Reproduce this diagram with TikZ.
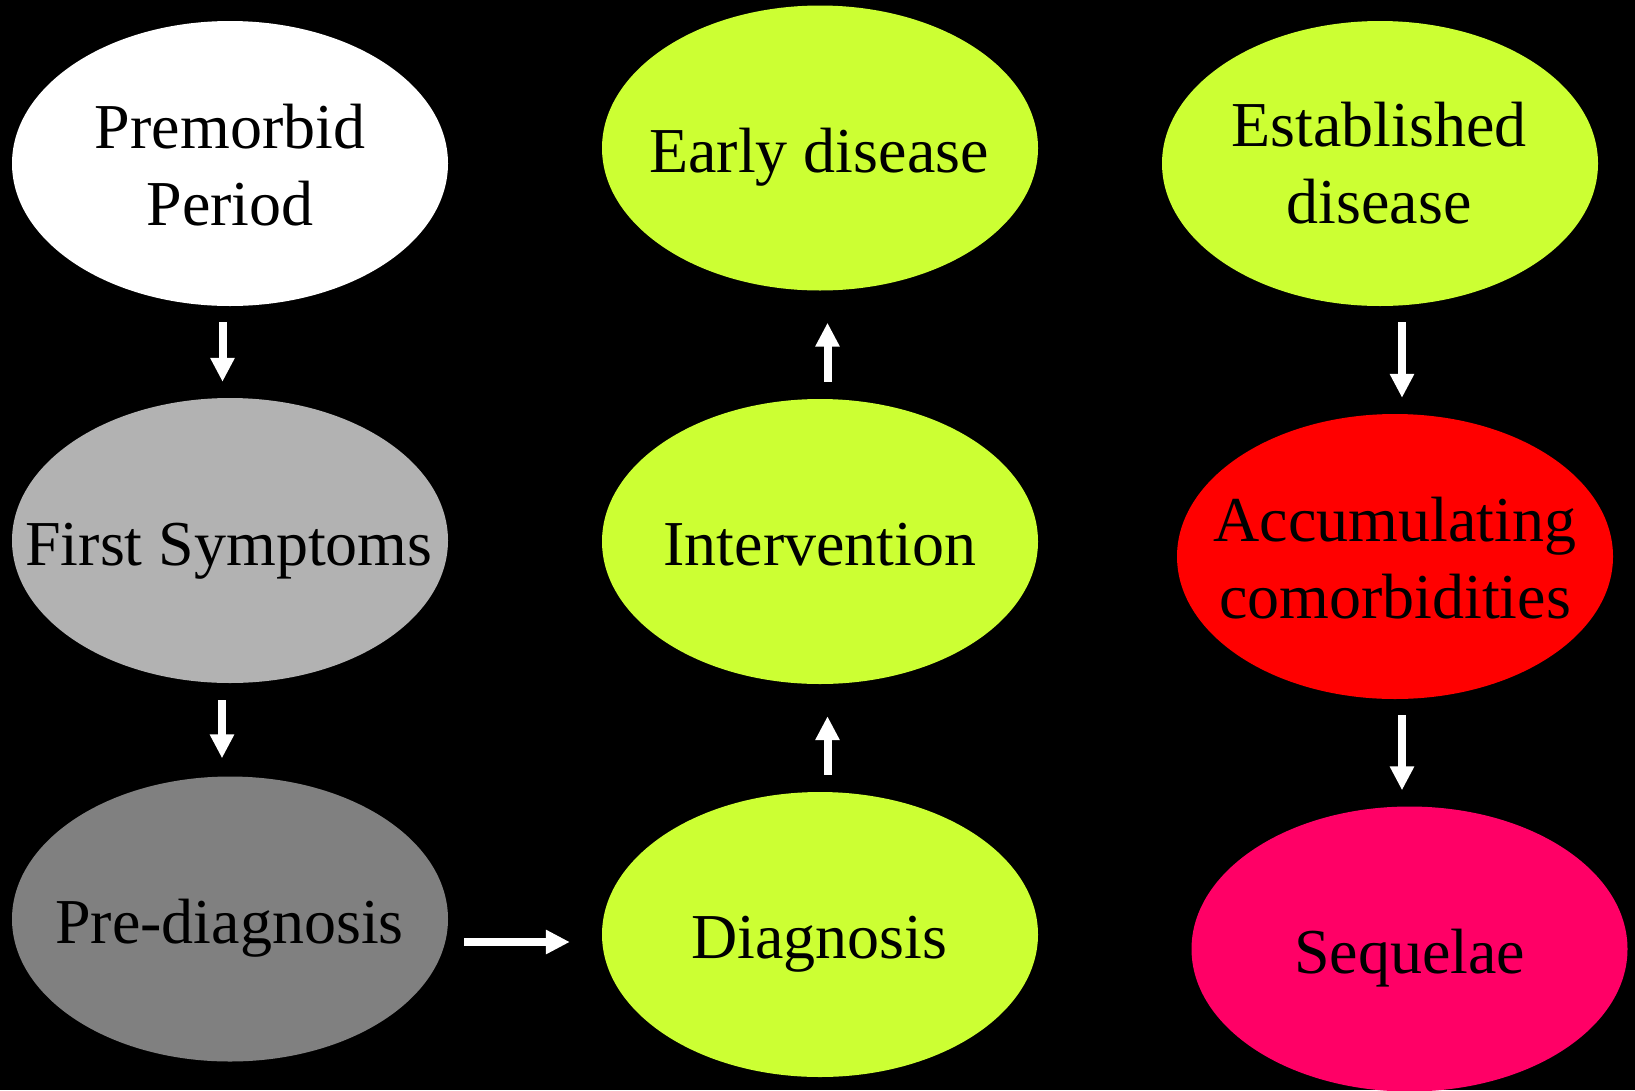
\documentclass[tikz,border=0pt]{standalone}
\usepackage{fontspec}
\setmainfont{Liberation Serif}
\usetikzlibrary{shapes.geometric,arrows.meta}
\definecolor{limeA}{HTML}{CCFF33}
\definecolor{greyA}{HTML}{B2B2B2}
\definecolor{greyB}{HTML}{808080}
\definecolor{redA}{HTML}{FF0000}
\definecolor{pinkA}{HTML}{FF0066}
\begin{document}
\begin{tikzpicture}[x=1pt,y=-1pt,
  oval/.style={ellipse, draw=none, minimum width=436pt, minimum height=285pt, inner sep=0pt},
  txt/.style={font=\fontsize{64}{77}\selectfont, align=center, anchor=base, inner sep=0pt, text=black},
  arr/.style={draw=white, line width=8pt, -{Triangle[width=23pt,length=24pt]}}]
\fill[black] (0,0) rectangle (1635,1090);
\useasboundingbox (0,0) rectangle (1635,1090);
% ellipses
\node[oval, fill=white] (pm) at (230,163.5) {};
\node[oval, fill=greyA] (fs) at (230,540.5) {};
\node[oval, fill=greyB] (pd) at (230,919) {};
\node[oval, fill=limeA] (ed) at (820,148) {};
\node[oval, fill=limeA] (iv) at (820,541.5) {};
\node[oval, fill=limeA] (dg) at (820,934.5) {};
\node[oval, fill=limeA] (es) at (1380,163.5) {};
\node[oval, fill=redA] (ac) at (1395,556.5) {};
\node[oval, fill=pinkA] (sq) at (1409.5,949) {};
% texts (base anchor = baseline of last line)
\node[txt] (pmT) at (230,225) {Premorbid\\Period};
\node[txt] (fsT) at (229,565) {First Symptoms};
\node[txt] (pdT) at (229.5,943) {Pre-diagnosis};
\node[txt] (edT) at (819,172) {Early disease};
\node[txt] (ivT) at (820,565) {Intervention};
\node[txt] (dgT) at (819,958) {Diagnosis};
\node[txt] (esT) at (1379,223) {Established\\disease};
\node[txt] (acT) at (1395,618.5) {Accumulating\\comorbidities};
\node[txt] (sqT) at (1409.5,973) {Sequelae};
% arrows
\draw[arr] ([xshift=-7.5pt,yshift=-16pt]pm.south) -- ([xshift=-7.5pt,yshift=16pt]fs.north);
\draw[arr] ([xshift=-8pt,yshift=-17pt]fs.south) -- ([xshift=-8pt,yshift=18pt]pd.north);
\draw[arr] ([xshift=16pt,yshift=-23pt]pd.east) -- ([xshift=-32pt,yshift=-7.5pt]dg.west);
\draw[arr] ([xshift=7.5pt,yshift=17pt]dg.north) -- ([xshift=7.5pt,yshift=-32pt]iv.south);
\draw[arr] ([xshift=7.5pt,yshift=17pt]iv.north) -- ([xshift=7.5pt,yshift=-32pt]ed.south);
\draw[arr] ([xshift=22pt,yshift=-16pt]es.south) -- ([xshift=7pt,yshift=16pt]ac.north);
\draw[arr] ([xshift=7pt,yshift=-16pt]ac.south) -- ([xshift=-7.5pt,yshift=16pt]sq.north);
\end{tikzpicture}
\end{document}
